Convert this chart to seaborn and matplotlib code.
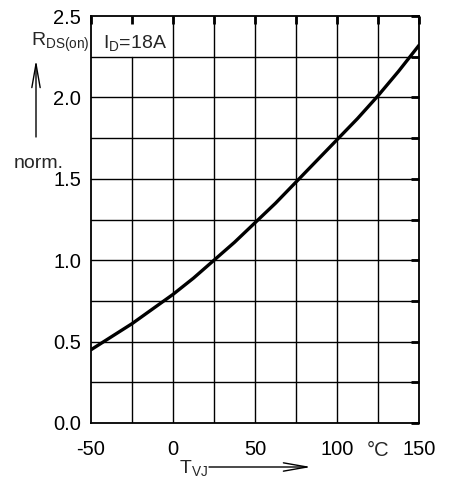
import matplotlib
matplotlib.use("Agg")
import matplotlib.pyplot as plt
import seaborn as sns
import pandas as pd

# data
temp_c = [-50, -37.5, -25, -12.5, 0, 12.5, 25, 37.5, 50, 62.5, 75, 87.5, 100, 112.5, 125, 137.5, 150]
rds_norm = [0.45, 0.53, 0.61, 0.70, 0.79, 0.89, 1.0, 1.11, 1.23, 1.35, 1.48, 1.61, 1.74, 1.87, 2.01, 2.16, 2.32]

x_ticks = [-50, -25, 0, 25, 50, 75, 100, 125, 150]
x_tick_labels = ["-50", "", "0", "", "50", "", "100", "", "150"]
y_ticks = [0.0, 0.25, 0.5, 0.75, 1.0, 1.25, 1.5, 1.75, 2.0, 2.25, 2.5]
y_tick_labels = ["0.0", "", "0.5", "", "1.0", "", "1.5", "", "2.0", "", "2.5"]

sns.set_style("white")
plt.rcParams["font.family"] = ["Liberation Sans", "DejaVu Sans"]

df = pd.DataFrame({"T": temp_c, "R": rds_norm})

fig = plt.figure(figsize=(4.51, 4.82), dpi=100)
ax = fig.add_axes([91/451, 1-423/482, (419-91)/451, (423-16)/482])

# grid lines
for xv in x_ticks[1:-1]:
    ymax = 0.9 if xv == -25 else 1.0
    ax.axvline(xv, ymin=0, ymax=ymax, color="black", lw=1.0, zorder=1)
for yv in y_ticks[1:-1]:
    ax.axhline(yv, color="black", lw=1.0, zorder=1)

sns.lineplot(data=df, x="T", y="R", ax=ax, color="black", lw=2.4, zorder=3)

ax.set_xlim(-50, 150)
ax.set_ylim(0, 2.5)
ax.set_xticks(x_ticks)
ax.set_xticklabels(x_tick_labels)
ax.set_yticks(y_ticks)
ax.set_yticklabels(y_tick_labels)
ax.tick_params(direction="in", length=6, width=2, top=True, right=True,
               labelsize=14.5, colors="black")
ax.tick_params(axis="x", pad=12)
ax.tick_params(axis="y", pad=7)
ax.set_xlabel("")
ax.set_ylabel("")
for s in ax.spines.values():
    s.set_color("black")
    s.set_linewidth(1.3)

arrow_style = "->,head_length=1.7,head_width=0.3"

# annotations
fig.text(31/451, 1-46/482, r"$\mathregular{R_{DS(on)}}$", fontsize=14, ha="left", va="baseline")
ax.annotate("", xy=(36/451, 1-60/482), xytext=(36/451, 1-137/482),
            xycoords="figure fraction", textcoords="figure fraction",
            arrowprops=dict(arrowstyle=arrow_style, color="black", lw=1.0,
                            mutation_scale=10, shrinkA=0, shrinkB=0))
fig.text(14/451, 1-163/482, "norm.", fontsize=14, ha="left", va="center")
fig.text(103/451, 1-48/482, r"$\mathregular{I_D}$=18A", fontsize=14, ha="left", va="baseline")

fig.text(179/451, 1-473/482, r"$\mathregular{T_{VJ}}$", fontsize=14, ha="left", va="baseline")
ax.annotate("", xy=(311/451, 1-467/482), xytext=(209/451, 1-467/482),
            xycoords="figure fraction", textcoords="figure fraction",
            arrowprops=dict(arrowstyle=arrow_style, color="black", lw=1.0,
                            mutation_scale=10, shrinkA=0, shrinkB=0))
fig.text(367/451, 1-456/482, "°C", fontsize=14.5, ha="left", va="baseline")

fig.savefig("out.png", dpi=100)
